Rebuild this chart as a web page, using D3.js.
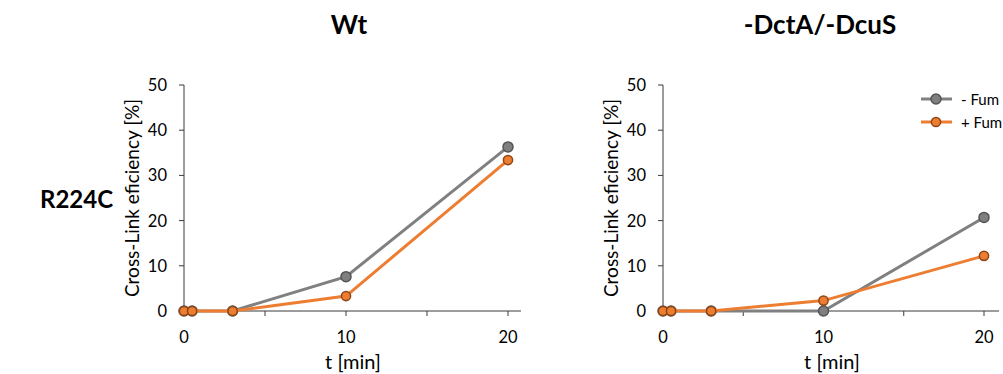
<!DOCTYPE html>
<html>
<head>
<meta charset="utf-8">
<script src="https://cdnjs.cloudflare.com/ajax/libs/d3/7.8.5/d3.min.js"></script>
<style>
  body { margin: 0; background: #fff; }
  svg { font-family: Lato, "Open Sans", sans-serif; }
</style>
</head>
<body>
<script>
// time points [min]
var times = [0, 0.5, 3, 10, 20];

// cross-link efficiency [%]
var wtMinusFum = [0, 0, 0, 7.6, 36.3];
var wtPlusFum = [0, 0, 0, 3.3, 33.4];
var koMinusFum = [0, 0, 0, 0, 20.7];
var koPlusFum = [0, 0, 0, 2.3, 12.2];

var seriesNames = ["- Fum", "+ Fum"];
var panelTitles = ["Wt", "-DctA/-DcuS"];
var rowLabel = "R224C";
var yTicks = [0, 10, 20, 30, 40, 50];
var xTicks = [0, 5, 10, 15, 20];
var xLabels = [0, 10, 20];

var width = 1003, height = 374;
var svg = d3.select("body").append("svg").attr("width", width).attr("height", height);

var colors = { minus: {line: "#808080", fill: "#7f7f7f", stroke: "#555555"},
               plus: {line: "#ED7D31", fill: "#ED7D31", stroke: "#8e4616"} };

var panels = [
  {left: 184, xEnd: 508, axisEnd: 521, minus: wtMinusFum, plus: wtPlusFum, title: panelTitles[0], titleX: 349, xTitleX: 353, yTitleX: 139, legend: false},
  {left: 663, xEnd: 984, axisEnd: 999, minus: koMinusFum, plus: koPlusFum, title: panelTitles[1], titleX: 820, xTitleX: 832, yTitleX: 618, legend: true}
];

var plotTop = 85, plotBottom = 311;
var axisColor = "#3a3a3a";

panels.forEach(function(p){
  var x = d3.scaleLinear().domain([0, 20]).range([p.left, p.xEnd]);
  var y = d3.scaleLinear().domain([0, 50]).range([plotBottom, plotTop]);
  var g = svg.append("g");

  // x axis
  g.append("line").attr("x1", p.left).attr("x2", p.axisEnd).attr("y1", plotBottom).attr("y2", plotBottom)
    .attr("stroke", axisColor).attr("stroke-width", 1);
  g.selectAll(".xt").data(xTicks).enter().append("line")
    .attr("x1", function(d){ return x(d); }).attr("x2", function(d){ return x(d); })
    .attr("y1", plotBottom).attr("y2", plotBottom + 5).attr("stroke", axisColor);
  g.selectAll(".xl").data(xLabels).enter().append("text")
    .attr("x", function(d){ return x(d); }).attr("y", plotBottom + 32)
    .attr("text-anchor", "middle").attr("font-size", 16.5).attr("fill", "#000")
    .text(function(d){ return d; });

  // y axis
  g.append("line").attr("x1", p.left).attr("x2", p.left).attr("y1", plotTop).attr("y2", plotBottom)
    .attr("stroke", axisColor);
  g.selectAll(".yt").data(yTicks).enter().append("line")
    .attr("x1", p.left - 5).attr("x2", p.left)
    .attr("y1", function(d){ return y(d); }).attr("y2", function(d){ return y(d); })
    .attr("stroke", axisColor);
  g.selectAll(".yl").data(yTicks).enter().append("text")
    .attr("x", p.left - 17).attr("y", function(d){ return y(d) + 6; })
    .attr("text-anchor", "end").attr("font-size", 16.5).attr("fill", "#000")
    .text(function(d){ return d; });

  // axis titles
  g.append("text").attr("transform", "translate(" + p.yTitleX + "," + 198 + ") rotate(-90)")
    .attr("text-anchor", "middle").attr("font-size", 19).text("Cross-Link eficiency [%]");
  g.append("text").attr("x", p.xTitleX).attr("y", 369)
    .attr("text-anchor", "middle").attr("font-size", 20).text("t [min]");

  // panel title
  g.append("text").attr("x", p.titleX).attr("y", 34)
    .attr("text-anchor", "middle").attr("font-size", 26).attr("font-weight", "bold").text(p.title);

  var line = d3.line().x(function(d){ return x(d[0]); }).y(function(d){ return y(d[1]); });

  [["minus", p.minus, 5], ["plus", p.plus, 4.6]].forEach(function(s){
    var data = times.map(function(t, i){ return [t, s[1][i]]; });
    var c = colors[s[0]];
    g.append("path").attr("d", line(data)).attr("fill", "none")
      .attr("stroke", c.line).attr("stroke-width", 3);
    g.selectAll(".pt-" + s[0]).data(data).enter().append("circle")
      .attr("cx", function(d){ return x(d[0]); }).attr("cy", function(d){ return y(d[1]); })
      .attr("r", s[2]).attr("fill", c.fill).attr("stroke", c.stroke).attr("stroke-width", 1.5);
  });

  if (p.legend) {
    var leg = svg.append("g");
    [["minus", 99, 5], ["plus", 122, 4.6]].forEach(function(s, i){
      var c = colors[s[0]];
      leg.append("line").attr("x1", 921).attr("x2", 952).attr("y1", s[1]).attr("y2", s[1])
        .attr("stroke", c.line).attr("stroke-width", 3);
      leg.append("circle").attr("cx", 936).attr("cy", s[1]).attr("r", s[2])
        .attr("fill", c.fill).attr("stroke", c.stroke).attr("stroke-width", 1.5);
      leg.append("text").attr("x", 961).attr("y", s[1] + 5.5).attr("font-size", 15)
        .text(seriesNames[i]);
    });
  }
});

svg.append("text").attr("x", 40).attr("y", 208).attr("font-size", 24).attr("font-weight", "bold")
  .text(rowLabel);
</script>
</body>
</html>
